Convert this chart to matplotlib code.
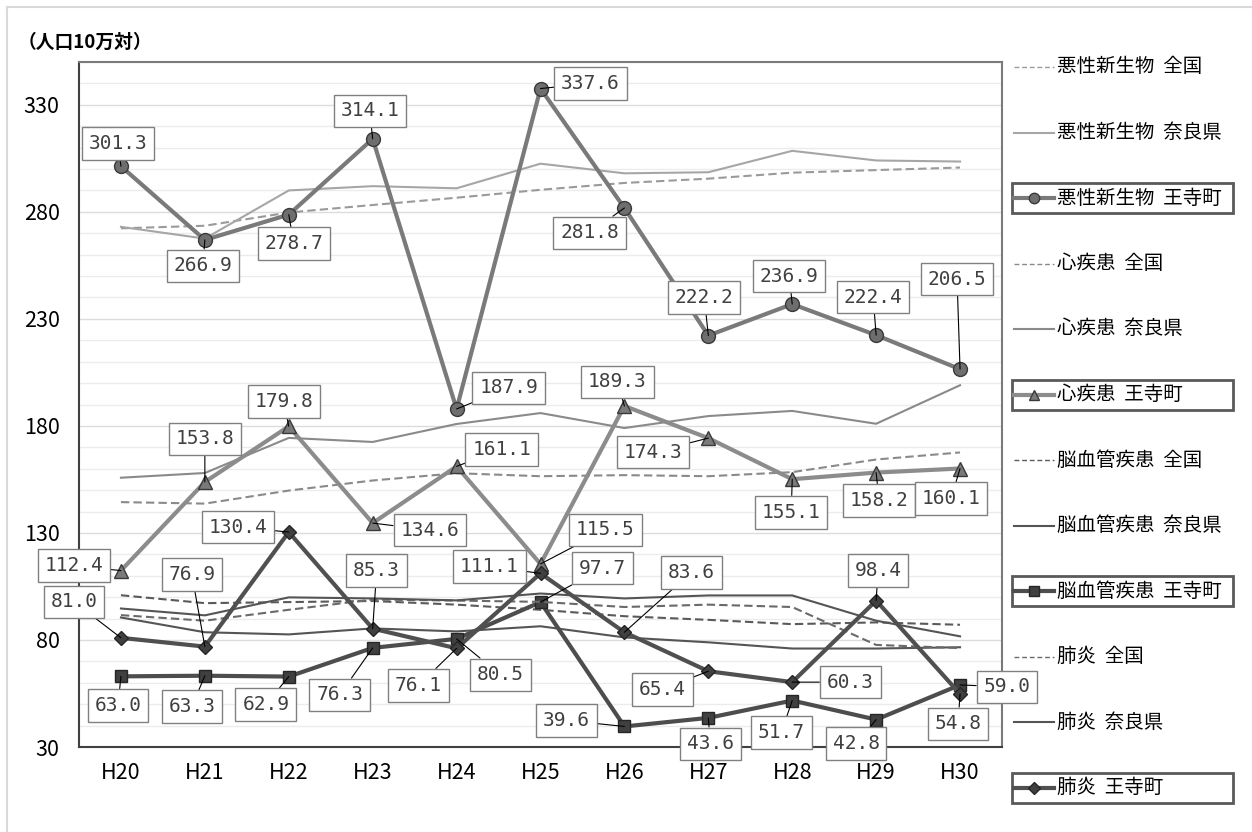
import matplotlib
matplotlib.use("Agg")
import matplotlib.pyplot as plt
from matplotlib.lines import Line2D
from matplotlib.patches import Rectangle
from matplotlib.ticker import MultipleLocator

plt.rcParams['font.family'] = ['Noto Sans CJK JP', 'DejaVu Sans']

# --- data (人口10万対) ---
years = ['H20', 'H21', 'H22', 'H23', 'H24', 'H25', 'H26', 'H27', 'H28', 'H29', 'H30']

cancer_nat = [272.3, 273.5, 279.7, 283.2, 286.6, 290.3, 293.5, 295.5, 298.3, 299.5, 300.7]
cancer_nara = [273.0, 267.5, 290.0, 292.0, 291.0, 302.5, 298.0, 298.5, 308.5, 304.0, 303.5]
cancer_oji = [301.3, 266.9, 278.7, 314.1, 187.9, 337.6, 281.8, 222.2, 236.9, 222.4, 206.5]

heart_nat = [144.4, 143.7, 149.8, 154.5, 157.9, 156.5, 157.0, 156.5, 158.4, 164.3, 167.6]
heart_nara = [155.8, 158.0, 174.4, 172.5, 180.9, 186.0, 179.0, 184.6, 187.0, 181.0, 199.0]
heart_oji = [112.4, 153.8, 179.8, 134.6, 161.1, 115.5, 189.3, 174.3, 155.1, 158.2, 160.1]

stroke_nat = [100.9, 97.2, 97.7, 98.2, 96.5, 94.1, 91.1, 89.4, 87.4, 88.2, 87.1]
stroke_nara = [90.5, 83.6, 82.6, 85.4, 84.0, 86.4, 81.2, 78.9, 76.0, 76.0, 76.6]
stroke_oji = [63.0, 63.3, 62.9, 76.3, 80.5, 97.7, 39.6, 43.6, 51.7, 42.8, 59.0]

pneu_nat = [91.6, 89.0, 94.1, 98.9, 98.4, 97.8, 95.4, 96.5, 95.4, 77.7, 76.2]
pneu_nara = [94.7, 91.5, 99.9, 99.4, 98.5, 101.7, 99.4, 100.8, 100.8, 89.0, 81.7]
pneu_oji = [81.0, 76.9, 130.4, 85.3, 76.1, 111.1, 83.6, 65.4, 60.3, 98.4, 54.8]

# label box offsets from the point, in pixels (x right, y down)
cancer_off = [(-3, -23), (-2, 26), (5, 29), (-3, -28), (52, -21), (50, -5),
              (-35, 25), (-4, -38), (-3, -28), (-3, -38), (-3, -90)]
heart_off = [(-47, -5), (0, -43), (-5, -25), (57, 7), (45, -17), (65, -34),
             (-7, -24), (-55, 14), (-1, 33), (3, 28), (-9, 30)]
stroke_off = [(-3, 29), (-13, 31), (-23, 28), (-33, 47), (44, 36), (62, -34),
              (-58, -6), (2, 26), (-11, 32), (-20, 24), (47, 2)]
pneu_off = [(-47, -36), (-13, -72), (-51, -5), (4, -58), (-38, 37), (-51, -7),
            (67, -60), (-46, 18), (58, 0), (2, -30), (-2, 30)]

dash = (0, (4, 2))
series = [
    ('悪性新生物  全国', cancer_nat, dict(color='#9a9a9a', lw=1.5, ls=dash), None),
    ('悪性新生物  奈良県', cancer_nara, dict(color='#a6a6a6', lw=1.5), None),
    ('悪性新生物  王寺町', cancer_oji, dict(color='#7a7a7a', lw=3, marker='o', ms=10,
                                     mfc='#6e6e6e', mec='#3a3a3a', mew=1), cancer_off),
    ('心疾患  全国', heart_nat, dict(color='#8a8a8a', lw=1.5, ls=dash), None),
    ('心疾患  奈良県', heart_nara, dict(color='#8a8a8a', lw=1.5), None),
    ('心疾患  王寺町', heart_oji, dict(color='#8c8c8c', lw=3, marker='^', ms=10,
                                   mfc='#7a7a7a', mec='#3a3a3a', mew=1), heart_off),
    ('脳血管疾患  全国', stroke_nat, dict(color='#5a5a5a', lw=1.5, ls=dash), None),
    ('脳血管疾患  奈良県', stroke_nara, dict(color='#555555', lw=1.5), None),
    ('脳血管疾患  王寺町', stroke_oji, dict(color='#4d4d4d', lw=3, marker='s', ms=9,
                                     mfc='#404040', mec='#262626', mew=1), stroke_off),
    ('肺炎  全国', pneu_nat, dict(color='#6a6a6a', lw=1.5, ls=dash), None),
    ('肺炎  奈良県', pneu_nara, dict(color='#555555', lw=1.5), None),
    ('肺炎  王寺町', pneu_oji, dict(color='#505050', lw=3, marker='D', ms=7.5,
                                 mfc='#404040', mec='#262626', mew=1), pneu_off),
]

W, H = 1252, 832
fig = plt.figure(figsize=(W / 100, H / 100), dpi=100)
ax = fig.add_axes([79 / W, 1 - 747 / H, (1002 - 79) / W, (747 - 62) / H])

x = list(range(len(years)))
for label, vals, style, offs in series:
    ax.plot(x, vals, **style, solid_joinstyle='round', zorder=3)

for label, vals, style, offs in series:
    if offs is None:
        continue
    for xi, v, (dx, dy) in zip(x, vals, offs):
        ax.annotate(f'{v:.1f}', xy=(xi, v), xytext=(dx, -dy), textcoords='offset pixels',
                    ha='center', va='center', fontsize=14, family='DejaVu Sans Mono',
                    color='#404040', zorder=10, annotation_clip=False,
                    bbox=dict(boxstyle='square,pad=0.35', fc='white', ec='#808080', lw=1),
                    arrowprops=dict(arrowstyle='-', color='black', lw=0.8,
                                    shrinkA=0, shrinkB=0))

ax.set_xlim(-0.5, len(years) - 0.5)
ax.set_ylim(30, 350)
ax.set_xticks(x)
ax.set_xticklabels(years)
ax.set_yticks([30, 80, 130, 180, 230, 280, 330])
ax.yaxis.set_minor_locator(MultipleLocator(10))
ax.tick_params(axis='both', which='both', length=0, labelsize=15.5)
ax.tick_params(axis='y', pad=14)
ax.tick_params(axis='x', pad=11)
ax.grid(axis='y', which='major', color='#dcdcdc', lw=1)
ax.grid(axis='y', which='minor', color='#ececec', lw=1)
ax.set_axisbelow(True)
for side in ['left', 'bottom']:
    ax.spines[side].set_color('#404040')
    ax.spines[side].set_linewidth(1.5)
for side in ['top', 'right']:
    ax.spines[side].set_color('#7a7a7a')
    ax.spines[side].set_linewidth(1.5)

fig.text(18 / W, 1 - 42 / H, '（人口10万対）', fontsize=13.5, fontweight='bold',
         ha='left', va='center')

# legend, drawn by hand on the right
leg_y0, leg_dy = 67, 65.5
for i, (label, vals, style, offs) in enumerate(series):
    py = leg_y0 + i * leg_dy
    fy = 1 - py / H
    st = dict(style)
    if 'ls' in st:
        st['ls'] = (0, (3.5, 2))
        st['lw'] = 1
    if 'marker' in st:
        st['markevery'] = [1]
        st['ms'] = st['ms'] * 0.75
    fig.add_artist(Line2D([1014 / W, 1034 / W, 1054 / W], [fy, fy, fy],
                          transform=fig.transFigure, **st))
    fig.text(1057 / W, fy, label, fontsize=14, ha='left', va='center')
    if offs is not None:
        fig.add_artist(Rectangle((1012 / W, 1 - (py + 15) / H), 221 / W, 30 / H,
                                 transform=fig.transFigure, fill=False,
                                 ec='#5a5a5a', lw=2))

# outer frame of the chart area
fig.add_artist(Line2D([7 / W, 1], [1 - 7 / H, 1 - 7 / H], transform=fig.transFigure,
                      color='#d9d9d9', lw=1.5))
fig.add_artist(Line2D([7 / W, 7 / W], [0, 1 - 7 / H], transform=fig.transFigure,
                      color='#d9d9d9', lw=1.5))

fig.savefig('out.png', dpi=100)
